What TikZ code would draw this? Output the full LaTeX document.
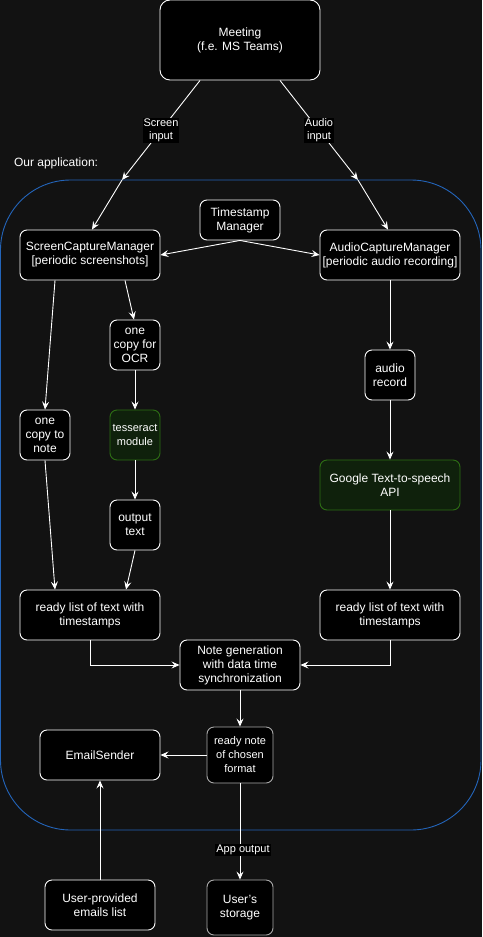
\documentclass[tikz,border=0pt]{standalone}
\usepackage{fontspec}
\setmainfont{Liberation Sans}
\usetikzlibrary{arrows.meta,positioning}
\definecolor{bgc}{RGB}{18,18,18}
\definecolor{bluec}{RGB}{35,100,185}
\definecolor{greenf}{RGB}{15,33,12}
\definecolor{greend}{RGB}{45,110,20}
\definecolor{greyd}{RGB}{170,170,170}
\tikzset{
  box/.style={draw=white, fill=black, rounded corners=7pt, line width=0.9pt, text=white, align=center, inner sep=0pt, font=\fontsize{12}{14}\selectfont},
  greenbox/.style={box, draw=greend, fill=greenf},
  greybox/.style={box, draw=greyd},
  conn/.style={draw=white, line width=0.9pt, -{Stealth[length=8pt,width=7pt,inset=3pt]}},
  lab/.style={fill=black, text=white, inner sep=1pt, align=center, font=\fontsize{11}{13}\selectfont},
}
\begin{document}
\begin{tikzpicture}[x=1pt,y=-1pt]
\fill[bgc] (0,0) rectangle (482,937);
\useasboundingbox (0,0) rectangle (482,937);
% container
\draw[bluec, line width=0.9pt, rounded corners=70pt] (0.5,180) rectangle (481,830);
\node[text=white, anchor=west, font=\fontsize{12}{14}\selectfont] (ourapp) at (10.5,163) {Our application:};

% nodes
\node[box, minimum width=160pt, minimum height=80pt, rounded corners=10pt] (meeting) at (240,40) {Meeting\\(f.e. MS Teams)};
\node[box, minimum width=80pt, minimum height=40pt] (ts) at (240,220) {Timestamp\\Manager};
\node[box, minimum width=140pt, minimum height=50pt] (scm) at (90,255) {ScreenCaptureManager\\{[}periodic screenshots{]}};
\node[box, minimum width=140pt, minimum height=50pt] (acm) at (390,255) {AudioCaptureManager\\{[}periodic audio recording{]}};
\node[box, minimum width=50pt, minimum height=50pt] (ocr) at (135,345) {one\\copy for\\OCR};
\node[box, minimum width=50pt, minimum height=50pt] (copynote) at (45,435) {one\\copy to\\note};
\node[greenbox, minimum width=50pt, minimum height=50pt, font=\fontsize{11}{14}\selectfont] (tess) at (135,435) {tesseract\\module};
\node[box, minimum width=50pt, minimum height=50pt] (outtext) at (135,525) {output\\text};
\node[box, minimum width=140pt, minimum height=50pt] (rlleft) at (90,615) {ready list of text with\\timestamps};
\node[box, minimum width=50pt, minimum height=50pt] (audrec) at (390,375) {audio\\record};
\node[greenbox, minimum width=140pt, minimum height=50pt] (gtts) at (390,485) {Google Text-to-speech\\API};
\node[box, minimum width=140pt, minimum height=50pt] (rlright) at (390,615) {ready list of text with\\timestamps};
\node[box, minimum width=120pt, minimum height=50pt] (notegen) at (240,665) {Note generation\\with data time\\synchronization};
\node[greybox, minimum width=66pt, minimum height=56pt, font=\fontsize{11}{14}\selectfont] (readynote) at (240,755) {ready note\\of chosen\\format};
\node[box, minimum width=120pt, minimum height=50pt] (email) at (100,755) {EmailSender};
\node[greybox, minimum width=66pt, minimum height=55pt] (storage) at (240,907.5) {User\char"0027 s\\storage};
\node[box, minimum width=110pt, minimum height=50pt] (emails) at (100,905) {User-provided\\emails list};

% coordinates on container edge
\coordinate (cl) at (122,180);
\coordinate (cr) at (358,180);

% connectors
\draw[conn] (meeting.south -| 200,0) -- node[lab, pos=0.5] {Screen\\input} (cl);
\draw[conn] (cl) -- (scm.north -| 92,0);
\draw[conn] (meeting.south -| 280,0) -- node[lab, pos=0.5] {Audio\\input} (cr);
\draw[conn] (cr) -- (acm.north -| 388,0);
\draw[conn] (ts.south) -- (scm.east);
\draw[conn] (ts.south) -- (acm.west);
\draw[conn] (scm.south -| 55,0) -- (copynote.north);
\draw[conn] (scm.south -| 125,0) -- (ocr.north -| 134,0);
\draw[conn] (ocr) -- (tess);
\draw[conn] (tess) -- (outtext);
\draw[conn] (copynote.south) -- (rlleft.north -| 55,0);
\draw[conn] (outtext.south) -- (rlleft.north -| 126,0);
\draw[conn] (acm) -- (audrec);
\draw[conn] (audrec) -- (gtts);
\draw[conn] (gtts) -- (rlright);
\draw[conn] (rlleft.south) |- (notegen.west);
\draw[conn] (rlright.south) |- (notegen.east);
\draw[conn] (notegen) -- (readynote);
\draw[conn] (readynote) -- (email);
\draw[conn] (readynote) -- node[lab, pos=0.69, xshift=3pt] {App output} (storage);
\draw[conn] (emails) -- (email);
\end{tikzpicture}
\end{document}
